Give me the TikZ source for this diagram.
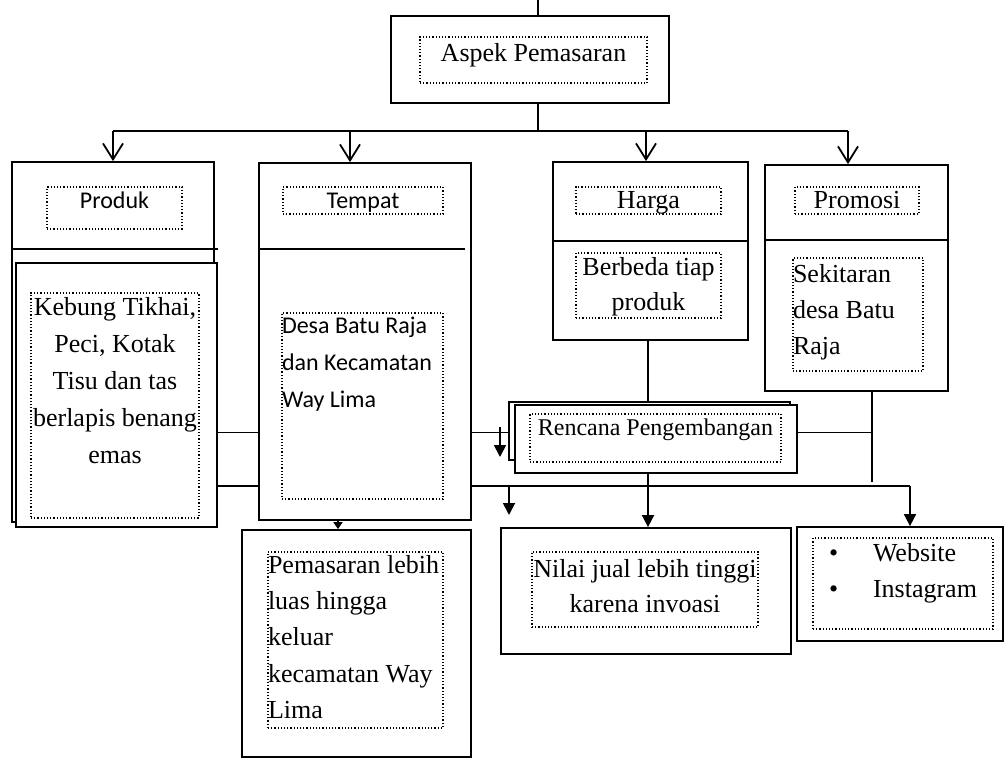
\documentclass[tikz,border=0pt]{standalone}
\usepackage{fontspec}
\setmainfont{Liberation Serif}
\newfontfamily\sansfam{Carlito}
\usetikzlibrary{arrows.meta}

\begin{document}
\begin{tikzpicture}[x=0.5pt, y=-0.5pt,
  box/.style={draw, line width=0.9pt, fill=white, inner sep=0pt},
  dotbox/.style={draw, densely dotted, line width=0.6pt, inner xsep=0pt, inner ysep=1pt,
                 text height=9pt, font=\fontsize{13pt}{18.5pt}\selectfont},
  sans/.style={text height=8pt, font=\sansfam\fontsize{12pt}{18.5pt}\selectfont},
  line/.style={line width=0.9pt},
  openarrow/.style={line, -{Straight Barb[length=8pt, width=10pt]}},
  fillarrow/.style={line, -{Triangle[length=6pt, width=6pt]}},
  smallarrow/.style={line, -{Triangle[length=3.5pt, width=4.5pt]}}
  ]
  \useasboundingbox (0,0) rectangle (1006,772);

  % aspek
  \node[box, minimum width=139pt, minimum height=43.5pt] (aspek) at (530,59.5) {};
  \node[dotbox, text width=113.5pt, align=flush center, minimum height=23pt, text depth=8pt]
    (aspektext) at (533.5,60) {Aspek Pemasaran};

  % produk
  \node[box, minimum width=101pt, minimum height=180pt] (produk) at (113,342) {};
  \node[dotbox, sans, text width=67.5pt, align=flush center, minimum height=21pt, text depth=8pt]
    (produktext) at (114.5,208) {Produk};
  \node[box, minimum width=100.5pt, minimum height=132pt] (kebung) at (116.5,395) {};
  \draw[line] (produk.west |- 0,249) -- (kebung.east |- 0,249);
  \node[dotbox, text width=84pt, align=flush center, minimum height=112.5pt, text depth=99.5pt]
    (kebungtext) at (115,405.5) {Kebung Tikhai,\\Peci, Kotak\\Tisu dan tas\\berlapis benang\\emas};

  % tempat
  \node[box, minimum width=106pt, minimum height=178.5pt] (tempat) at (365,341.5) {};
  \draw[line] (tempat.west |- 0,249) -- ([xshift=-3.5pt]tempat.east |- 0,249);
  \node[dotbox, sans, text width=80pt, align=flush center, minimum height=13.5pt, text depth=0.5pt]
    (tempattext) at (363,200.5) {Tempat};
  \node[dotbox, sans, text width=80.5pt, align=flush left, minimum height=93pt, text depth=81pt]
    (desa) at (362.5,406) {Desa Batu Raja\\dan Kecamatan\\Way Lima};

  % harga
  \node[box, minimum width=97.5pt, minimum height=89pt] (harga) at (650.5,251) {};
  \draw[line] (harga.west |- 0,241) -- (harga.east |- 0,241);
  \node[dotbox, text width=72.5pt, align=flush center, minimum height=13.5pt, text depth=1.5pt]
    (hargatext) at (648.5,200.5) {Harga};
  \node[dotbox, text width=72.5pt, align=flush center, minimum height=32.5pt, text depth=19.5pt,
        font=\fontsize{13pt}{17.5pt}\selectfont]
    (berbeda) at (648.5,285.5) {Berbeda tiap\\produk};

  % promosi
  \node[box, minimum width=91.5pt, minimum height=113pt] (promosi) at (856.5,278) {};
  \draw[line] (promosi.west |- 0,240) -- (promosi.east |- 0,240);
  \node[dotbox, text width=62pt, align=flush center, minimum height=13.5pt, text depth=1.5pt]
    (promositext) at (857,200.5) {Promosi};
  \node[dotbox, text width=65pt, align=flush left, minimum height=56.5pt, text depth=41.5pt,
        font=\fontsize{13pt}{18pt}\selectfont]
    (sekitaran) at (858,314.5) {Sekitaran\\desa Batu\\Raja};

  % rencana
  \node[box, minimum width=140.5pt, minimum height=29pt] (rencanaback) at (649.5,431) {};
  \node[box, minimum width=141pt, minimum height=34pt] (rencana) at (656,439) {};
  \node[dotbox, text width=125.5pt, align=flush center, minimum height=24pt, text depth=12pt,
        font=\fontsize{12pt}{14pt}\selectfont]
    (rencanatext) at (655.5,438) {Rencana Pengembangan};

  % hasil
  \node[box, minimum width=114.5pt, minimum height=113.5pt] (pemasaran) at (356.5,643.5) {};
  \node[dotbox, text width=87.5pt, align=flush left, minimum height=88pt, text depth=76pt,
        font=\fontsize{13pt}{18.2pt}\selectfont]
    (pemasarantext) at (355.5,640) {Pemasaran lebih\\luas hingga\\keluar\\kecamatan Way\\Lima};
  \node[box, minimum width=145pt, minimum height=63pt] (nilai) at (646,591) {};
  \node[dotbox, text width=113pt, align=flush center, minimum height=37.5pt, text depth=21.5pt,
        font=\fontsize{13pt}{17.5pt}\selectfont]
    (nilaitext) at (645,589.5) {Nilai jual lebih tinggi\\karena invoasi};
  \node[box, minimum width=103pt, minimum height=57pt] (website) at (900,584) {};
  \node[dotbox, text width=90pt, align=flush left, minimum height=45.5pt, text depth=31.5pt,
        font=\fontsize{13pt}{18pt}\selectfont]
    (websitetext) at (903,583.5)
    {\hspace*{8pt}\makebox[22pt][l]{\textbullet}Website\\\hspace*{8pt}\makebox[22pt][l]{\textbullet}Instagram};

  % connectors
  \coordinate (topend) at (538,0);
  \coordinate (bus) at (538,131);
  \coordinate (b1) at (113,131);
  \coordinate (b2) at (350,131);
  \coordinate (b3) at (646,131);
  \coordinate (b4) at (848,131);
  \coordinate (mid) at (0,432.5);
  \coordinate (low) at (0,486);
  \coordinate (promodrop) at (872,482);
  \coordinate (s1) at (500,427);
  \coordinate (s1end) at (500,457);
  \coordinate (b5) at (509,486);
  \coordinate (b5end) at (509,515);
  \coordinate (b6) at (648,486);
  \coordinate (b7) at (910,486);

  \draw[line] (topend) -- (topend |- aspek.north);
  \draw[line] (bus |- aspek.south) -- (bus);
  \draw[line] (b1) -- (b4);
  \draw[openarrow] (b1) -- (b1 |- produk.north);
  \draw[openarrow] (b2) -- (b2 |- tempat.north);
  \draw[openarrow] (b3) -- (b3 |- harga.north);
  \draw[openarrow] (b4) -- (b4 |- promosi.north);

  \draw[line] (kebung.east |- mid) -- (tempat.west |- mid);
  \draw[line] (tempat.east |- mid) -- (rencanaback.west |- mid);
  \draw[line] (rencana.east |- mid) -- (promodrop |- mid);
  \draw[line] (promosi.south -| promodrop) -- (promodrop);
  \draw[line] (b6 |- harga.south) -- (b6 |- rencanaback.north);
  \draw[fillarrow] (s1) -- (s1end);

  \draw[line] (kebung.east |- low) -- (tempat.west |- low);
  \draw[line] (tempat.east |- low) -- (b7);
  \draw[line] (b6 |- rencana.south) -- (b6);
  \draw[fillarrow] (b5) -- (b5end);
  \draw[fillarrow] (b6) -- (b6 |- nilai.north);
  \draw[fillarrow] (b7) -- (b7 |- website.north);
  \draw[smallarrow] ([xshift=-13.5pt]tempat.south) -- ([xshift=-13.5pt]tempat.south |- pemasaran.north);
\end{tikzpicture}
\end{document}
